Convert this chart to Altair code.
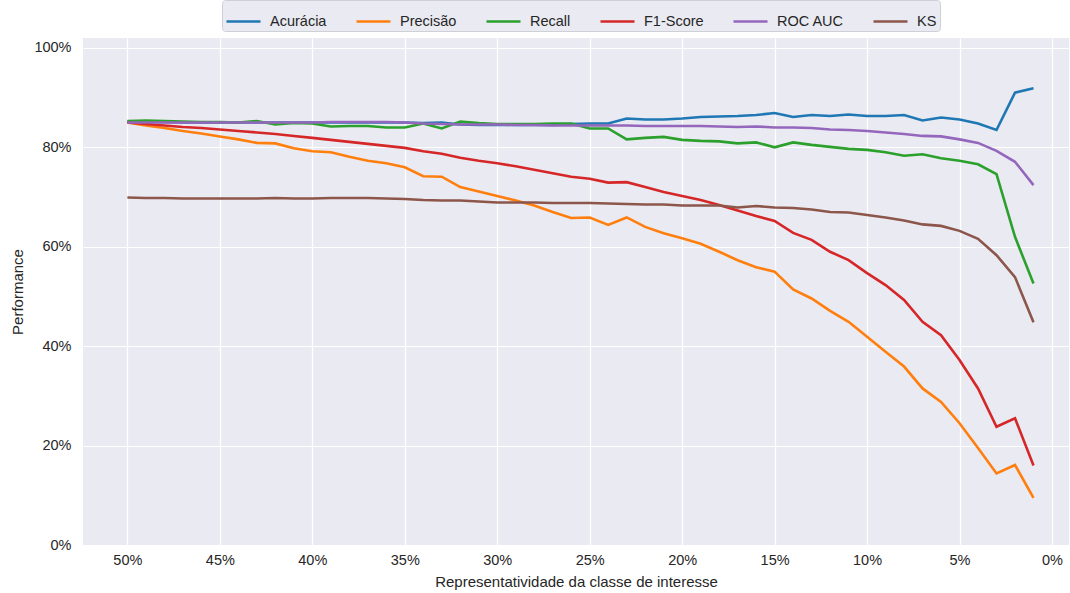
import altair as alt
import pandas as pd

representatividade = list(range(50, 0, -1))

acuracia = [85.2, 85.2, 85.1, 85.0, 85.0, 85.0, 85.0, 85.0, 85.0, 85.0,
            85.0, 85.0, 85.0, 85.0, 85.0, 85.0, 84.9, 85.0, 84.6, 84.5,
            84.5, 84.5, 84.5, 84.5, 84.7, 84.8, 84.8, 85.8, 85.6, 85.6,
            85.8, 86.1, 86.2, 86.3, 86.5, 86.9, 86.1, 86.5, 86.3, 86.6,
            86.3, 86.3, 86.5, 85.4, 86.0, 85.6, 84.8, 83.5, 91.0, 91.9]

precisao = [85.0, 84.4, 83.9, 83.3, 82.8, 82.2, 81.6, 80.9, 80.8, 79.8,
            79.2, 79.0, 78.1, 77.3, 76.8, 76.0, 74.2, 74.1, 72.0, 71.1,
            70.2, 69.3, 68.3, 67.0, 65.8, 65.9, 64.4, 65.9, 64.0, 62.7,
            61.7, 60.6, 59.0, 57.3, 55.9, 55.0, 51.4, 49.6, 47.1, 44.9,
            41.9, 38.9, 35.9, 31.5, 28.8, 24.5, 19.5, 14.4, 16.1, 9.5]

recall = [85.3, 85.4, 85.3, 85.2, 85.1, 85.1, 85.0, 85.3, 84.6, 84.9,
          84.8, 84.2, 84.3, 84.3, 84.0, 84.0, 84.8, 83.8, 85.2, 84.9,
          84.7, 84.7, 84.7, 84.8, 84.8, 83.8, 83.8, 81.6, 81.9, 82.1,
          81.5, 81.3, 81.2, 80.8, 81.0, 80.0, 81.0, 80.5, 80.1, 79.7,
          79.5, 79.0, 78.3, 78.6, 77.8, 77.3, 76.6, 74.6, 62.0, 52.6]

f1 = [85.0, 84.7, 84.4, 84.1, 83.9, 83.6, 83.3, 83.0, 82.7, 82.3,
      81.9, 81.5, 81.1, 80.7, 80.3, 79.9, 79.2, 78.7, 77.9, 77.3,
      76.8, 76.2, 75.5, 74.8, 74.1, 73.7, 72.9, 73.0, 72.0, 71.0,
      70.2, 69.4, 68.4, 67.3, 66.2, 65.2, 62.8, 61.4, 59.0, 57.3,
      54.7, 52.3, 49.3, 44.9, 42.2, 37.2, 31.5, 23.8, 25.5, 16.0]

roc_auc = [85.0, 85.0, 85.0, 85.0, 85.0, 85.0, 85.0, 85.0, 85.0, 85.0,
           85.0, 85.1, 85.1, 85.1, 85.1, 85.0, 84.8, 84.7, 84.6, 84.6,
           84.6, 84.5, 84.5, 84.4, 84.4, 84.4, 84.4, 84.4, 84.3, 84.3,
           84.3, 84.3, 84.2, 84.1, 84.2, 84.0, 84.0, 83.9, 83.6, 83.5,
           83.3, 83.0, 82.7, 82.3, 82.2, 81.6, 80.9, 79.3, 77.1, 72.4]

ks = [69.9, 69.8, 69.8, 69.7, 69.7, 69.7, 69.7, 69.7, 69.8, 69.7,
      69.7, 69.8, 69.8, 69.8, 69.7, 69.6, 69.4, 69.3, 69.3, 69.1,
      68.9, 68.9, 68.9, 68.8, 68.8, 68.8, 68.7, 68.6, 68.5, 68.5,
      68.3, 68.3, 68.3, 67.9, 68.2, 67.9, 67.8, 67.5, 67.0, 66.9,
      66.4, 65.9, 65.3, 64.5, 64.2, 63.2, 61.6, 58.3, 53.9, 44.8]

series_names = ["Acurácia", "Precisão", "Recall", "F1-Score", "ROC AUC", "KS"]
series_values = [acuracia, precisao, recall, f1, roc_auc, ks]
series_colors = ["#1f77b4", "#ff7f0e", "#2ca02c", "#d62728", "#9467bd", "#8c564b"]

x_ticks = [0, 5, 10, 15, 20, 25, 30, 35, 40, 45, 50]
y_ticks = [0, 20, 40, 60, 80, 100]

rows = []
for order, (name, vals) in enumerate(zip(series_names, series_values)):
    for p, v in zip(representatividade, vals):
        rows.append({"Métrica": name, "rep": p, "perf": v, "ordem": order})
df = pd.DataFrame(rows)

chart = alt.Chart(df).mark_line(strokeWidth=2.6, clip=True).encode(
    x=alt.X("rep:Q",
            scale=alt.Scale(domain=[-0.92, 52.4], reverse=True, nice=False, zero=False),
            axis=alt.Axis(values=x_ticks, labelExpr="datum.value + '%'",
                          title="Representatividade da classe de interesse",
                          grid=True, ticks=False, domain=False,
                          labelPadding=8, titlePadding=8)),
    y=alt.Y("perf:Q",
            scale=alt.Scale(domain=[0, 102], nice=False, zero=True),
            axis=alt.Axis(values=y_ticks, labelExpr="datum.value + '%'",
                          title="Performance", grid=True, ticks=False, domain=False,
                          labelPadding=12, titlePadding=8)),
    color=alt.Color("Métrica:N",
                    scale=alt.Scale(domain=series_names, range=series_colors),
                    sort=series_names,
                    legend=alt.Legend(orient="none", legendX=139, legendY=-38,
                                      direction="horizontal", columns=6,
                                      title=None, symbolType="stroke",
                                      symbolSize=1156, symbolStrokeWidth=2.6,
                                      labelFontSize=14.5, labelColor="#262626",
                                      labelOffset=8, columnPadding=24,
                                      padding=3, fillColor="#eaeaf2",
                                      strokeColor="#cfcfd6", cornerRadius=3)),
    detail="ordem:O",
    order="rep:Q",
).properties(
    width=986,
    height=507,
    padding={"left": 83, "top": 38, "right": 1, "bottom": 48},
    autosize=alt.AutoSizeParams(type="none"),
    background="white",
).configure(
    font="Liberation Sans",
).configure_view(
    fill="#eaeaf2",
    stroke=None,
).configure_axis(
    gridColor="white",
    gridWidth=1.2,
    labelFontSize=14.5,
    labelColor="#262626",
    titleFontSize=15,
    titleFontWeight="normal",
    titleColor="#262626",
)

chart.save("out.html", embed_options={"renderer": "svg", "actions": False})
